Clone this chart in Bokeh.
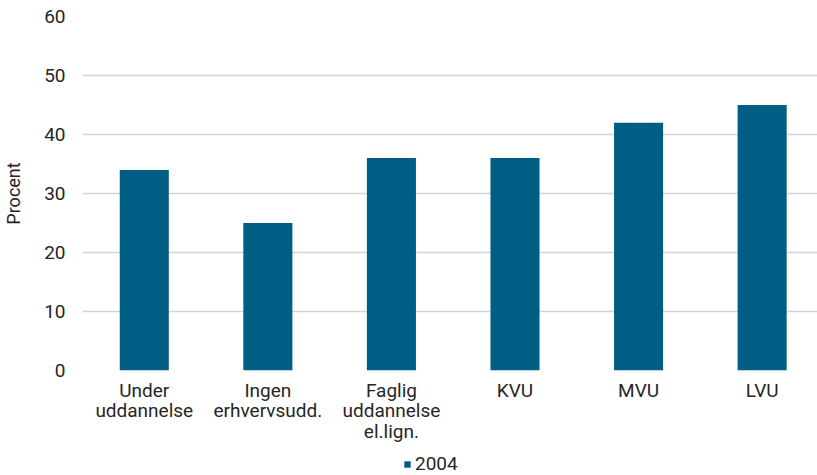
from bokeh.plotting import figure
from bokeh.layouts import column
from bokeh.models import ColumnDataSource, FixedTicker, Range1d, Legend, LegendItem
from bokeh.embed import file_html
from bokeh.resources import INLINE

categories = ["Under\nuddannelse", "Ingen\nerhvervsudd.", "Faglig\nuddannelse\nel.lign.", "KVU", "MVU", "LVU"]
values_2004 = [34, 25, 36, 36, 42, 45]
y_ticks = [0, 10, 20, 30, 40, 50, 60]
series_name = "2004"

FONT = "Roboto"
TXT = "#262626"
BAR = "#005E85"

xs = [i + 0.5 for i in range(len(categories))]
src = ColumnDataSource(dict(x=xs, top=values_2004, label=categories))

p = figure(width=817, height=453, output_backend="svg", toolbar_location=None,
           x_range=Range1d(0, 5.948), y_range=Range1d(0, 60),
           min_border_left=0, min_border_right=0, min_border_top=16, min_border_bottom=83)
p.outline_line_color = None
p.background_fill_color = "white"
p.border_fill_color = "white"

r = p.vbar(x="x", top="top", width=0.397, source=src, fill_color=BAR, line_color=None)

p.xaxis.ticker = FixedTicker(ticks=xs)
p.xaxis.major_label_overrides = {x: c for x, c in zip(xs, categories)}
p.yaxis.ticker = FixedTicker(ticks=y_ticks)
p.yaxis.axis_label = "Procent"

for ax in (p.xaxis, p.yaxis):
    ax.axis_line_color = None
    ax.major_tick_line_color = None
    ax.minor_tick_line_color = None
    ax.major_label_text_font = FONT
    ax.major_label_text_font_size = "19px"
    ax.major_label_text_color = TXT
p.xaxis.major_label_standoff = 2
p.xaxis.major_label_text_line_height = 0.9
p.yaxis.major_label_standoff = 11
p.yaxis.axis_label_text_font = FONT
p.yaxis.axis_label_text_font_size = "18px"
p.yaxis.axis_label_text_font_style = "normal"
p.yaxis.axis_label_text_color = TXT
p.yaxis.axis_label_standoff = 17

p.xgrid.grid_line_color = None
p.ygrid.grid_line_color = "#d4d4d4"
p.ygrid.grid_line_width = 1.5

# legend strip below the chart (its bars lie far below the strip's view; only the legend shows)
lg = figure(width=817, height=22, output_backend="svg", toolbar_location=None,
            x_axis_location=None, y_axis_location=None,
            x_range=p.x_range, y_range=Range1d(100, 101),
            min_border_left=0, min_border_right=0, min_border_top=0, min_border_bottom=0)
lg.grid.visible = False
lg.outline_line_color = None
lr = lg.vbar(x="x", top="top", width=0.397, source=src, fill_color=BAR, line_color=None)
legend = Legend(items=[LegendItem(label=series_name, renderers=[lr])],
                orientation="horizontal", location=(321, 0),
                label_text_font=FONT, label_text_font_size="19px", label_text_color=TXT,
                glyph_width=8, glyph_height=8, label_standoff=4, label_height=20,
                border_line_color=None, background_fill_alpha=0, margin=0, padding=0)
lg.add_layout(legend, "center")

layout = column(p, lg, spacing=0)
open("out.html", "w").write(file_html(layout, INLINE))
